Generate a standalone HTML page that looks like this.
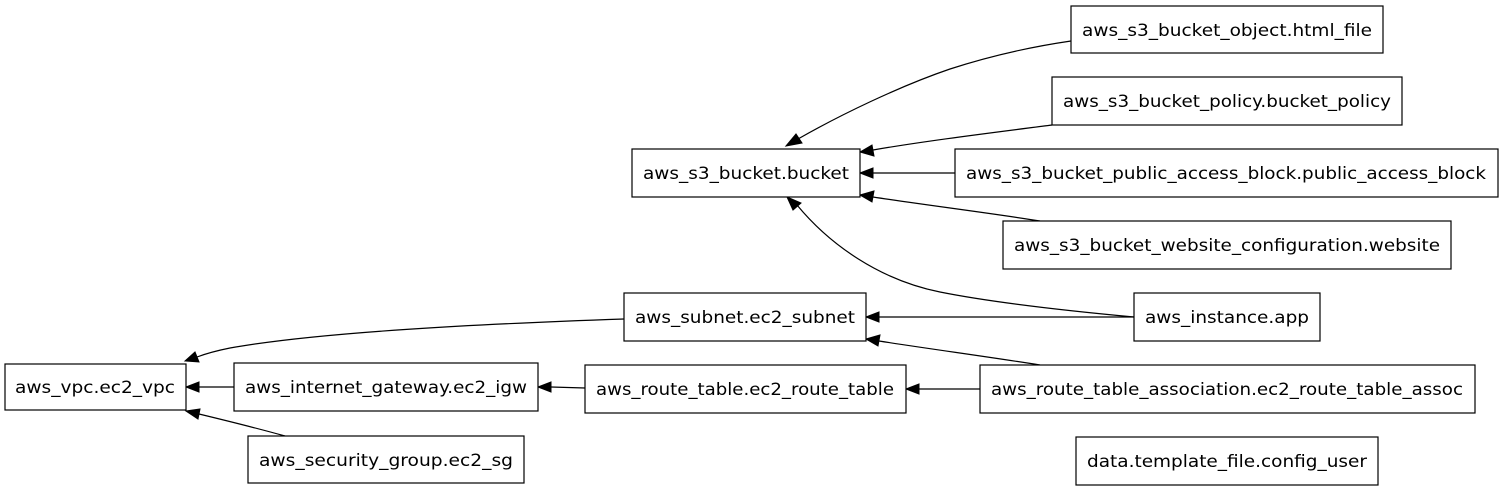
<!DOCTYPE html>
<html><head><meta charset="utf-8"><style>
html,body{margin:0;padding:0;background:#fff;}
svg{display:block;}
text{font-family:"DejaVu Sans","Liberation Sans",sans-serif;font-size:17px;fill:#000;}
rect{fill:#fff;stroke:#000;stroke-width:1.2;}
path{fill:none;stroke:#000;stroke-width:1.2;}
polygon{fill:#000;stroke:#000;}
</style></head><body>
<svg width="1505" height="491" viewBox="0 0 1505 491" xmlns="http://www.w3.org/2000/svg">
<!-- edges -->
<path d="M1071,41 C1030,47 990,56 950,69 C900,86 840,115 798,139"/>
<polygon points="786,146 796,134 802,143"/>
<path d="M1052,125 C990,133 925,141 873,150"/>
<polygon points="860,152 872,145 874,156"/>
<path d="M955,173 L873,173"/>
<polygon points="860,173 873,168 873,178"/>
<path d="M1040,221 C990,213 925,205 873,197"/>
<polygon points="860,195 874,191 872,202"/>
<path d="M1134,317 C1080,312 1000,304 940,292 C880,280 830,245 797,205"/>
<polygon points="787,197 801,203 793,210"/>
<path d="M1134,317 L879,317"/>
<polygon points="866,317 879,312 879,322"/>
<path d="M1040,365 C990,357 930,349 879,341"/>
<polygon points="866,339 880,335 878,346"/>
<path d="M980,389 L919,389"/>
<polygon points="906,389 919,384 919,394"/>
<path d="M585,388 L551,387"/>
<polygon points="538,387 551,382 551,392"/>
<path d="M624,319 C480,324 320,332 230,348 C215,351 205,354 197,357"/>
<polygon points="185,361 195,352 199,362"/>
<path d="M234,387 L199,387"/>
<polygon points="186,387 199,382 199,392"/>
<path d="M285,436 C260,429 228,421 199,414"/>
<polygon points="186,411 200,409 198,419"/>
<!-- nodes -->
<rect x="1071" y="6" width="312" height="47"/>
<text x="1227" y="36" text-anchor="middle" textLength="290" lengthAdjust="spacingAndGlyphs">aws_s3_bucket_object.html_file</text>
<rect x="1052" y="77" width="350" height="48"/>
<text x="1227" y="107" text-anchor="middle" textLength="328" lengthAdjust="spacingAndGlyphs">aws_s3_bucket_policy.bucket_policy</text>
<rect x="632" y="149" width="228" height="48"/>
<text x="746" y="179" text-anchor="middle" textLength="206" lengthAdjust="spacingAndGlyphs">aws_s3_bucket.bucket</text>
<rect x="955" y="149" width="543" height="48"/>
<text x="1226" y="179" text-anchor="middle" textLength="520" lengthAdjust="spacingAndGlyphs">aws_s3_bucket_public_access_block.public_access_block</text>
<rect x="1003" y="221" width="448" height="48"/>
<text x="1227" y="251" text-anchor="middle" textLength="426" lengthAdjust="spacingAndGlyphs">aws_s3_bucket_website_configuration.website</text>
<rect x="624" y="293" width="242" height="48"/>
<text x="745" y="323" text-anchor="middle" textLength="220" lengthAdjust="spacingAndGlyphs">aws_subnet.ec2_subnet</text>
<rect x="1134" y="293" width="186" height="48"/>
<text x="1227" y="323" text-anchor="middle" textLength="164" lengthAdjust="spacingAndGlyphs">aws_instance.app</text>
<rect x="5" y="364" width="181" height="46"/>
<text x="95" y="393" text-anchor="middle" textLength="160" lengthAdjust="spacingAndGlyphs">aws_vpc.ec2_vpc</text>
<rect x="234" y="363" width="304" height="48"/>
<text x="386" y="393" text-anchor="middle" textLength="282" lengthAdjust="spacingAndGlyphs">aws_internet_gateway.ec2_igw</text>
<rect x="585" y="365" width="321" height="48"/>
<text x="745" y="395" text-anchor="middle" textLength="298" lengthAdjust="spacingAndGlyphs">aws_route_table.ec2_route_table</text>
<rect x="980" y="365" width="495" height="48"/>
<text x="1227" y="395" text-anchor="middle" textLength="472" lengthAdjust="spacingAndGlyphs">aws_route_table_association.ec2_route_table_assoc</text>
<rect x="248" y="436" width="276" height="47"/>
<text x="386" y="466" text-anchor="middle" textLength="254" lengthAdjust="spacingAndGlyphs">aws_security_group.ec2_sg</text>
<rect x="1076" y="437" width="302" height="48"/>
<text x="1227" y="467" text-anchor="middle" textLength="280" lengthAdjust="spacingAndGlyphs">data.template_file.config_user</text>
</svg>
</body></html>
